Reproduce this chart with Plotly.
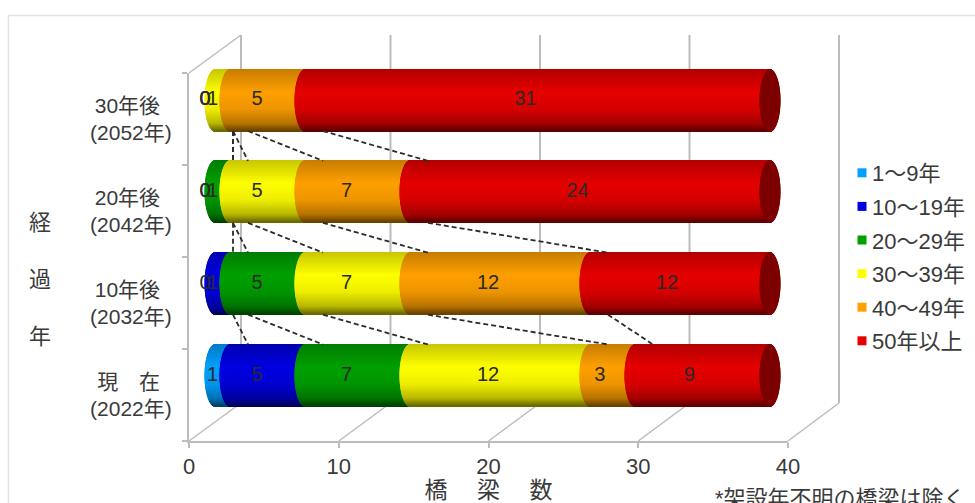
import numpy as np
import plotly.graph_objects as go

W, H = 975, 503
FONT = "Liberation Sans, Noto Sans CJK JP, sans-serif"
TXT = "#3a3a3a"
GRID = "#bcbcbc"

# ---- data ----
tick_labels = ["現　在\u00a0\u00a0<br>(2022年)", "10年後\u00a0\u00a0<br>(2032年)",
               "20年後\u00a0\u00a0<br>(2042年)", "30年後\u00a0\u00a0<br>(2052年)"]
series_names = ["1〜9年", "10〜19年", "20〜29年", "30〜39年", "40〜49年", "50年以上"]
s_1_9 = [1, 0, 0, 0]
s_10_19 = [5, 1, 0, 0]
s_20_29 = [7, 5, 1, 0]
s_30_39 = [12, 7, 5, 1]
s_40_49 = [3, 12, 7, 5]
s_50 = [9, 12, 24, 31]
series_values = [s_1_9, s_10_19, s_20_29, s_30_39, s_40_49, s_50]
series_colors = [(0, 160, 255), (0, 0, 225), (0, 160, 0), (255, 255, 0), (255, 160, 0), (230, 0, 0)]
x_ticks = [0, 10, 20, 30, 40]

# ---- geometry of the pseudo-3D box, in pixels ----
FX0, FX1, FY0, FY1 = 189, 788, 441, 73      # front plane
BX0, BX1, BY0, BY1 = 241, 839, 403, 35      # back plane
BAR_X0, BAR_SCALE = 215, 15.0               # where value 0 sits for the cylinders
LABEL_X0, LABEL_SCALE, LINK_X0 = 205, 14.9, 233
ROW0_Y, ROW_STEP = 375.5, 91.83
R_PX, CAP_A = 31.0, 10.5
N = 62


def px(x):
    return x / W


def py(y):
    return 1 - y / H


def shade(rgb, t):
    f = np.interp(t, [-1, -0.25, 0.3, 0.75, 1], [0.78, 1.0, 0.93, 0.72, 0.4])
    return "rgb(%d,%d,%d)" % tuple(int(c * f) for c in rgb)


ts = (np.arange(N) + 0.5) / N * 2 - 1
thick = 2 * R_PX / N / ROW_STEP
r_units = R_PX / ROW_STEP
a_units = CAP_A / BAR_SCALE
cum = np.cumsum(np.array(series_values, dtype=float), axis=0)

fig = go.Figure()

# dashed links between rows
for i in range(len(series_names) - 1):
    for r in range(3):
        fig.add_trace(go.Scatter(
            x=[cum[i][r + 1], cum[i][r]], y=[r + 1 - r_units, r + r_units],
            xaxis="x4", yaxis="y", mode="lines", showlegend=False, hoverinfo="skip",
            line=dict(color="#2b2b2b", width=1.8, dash="5px,3px")))

# cylinders drawn as thin horizontal bars
for i, name in enumerate(series_names):
    ys, bases, lens, cols = [], [], [], []
    for r in range(4):
        v = series_values[i][r]
        if v == 0:
            continue
        start = cum[i][r] - v
        for t in ts:
            bulge = a_units * np.sqrt(1 - t * t)
            ys.append(r - t * r_units)
            bases.append(start - bulge)
            lens.append(v + bulge)
            cols.append(shade(series_colors[i], t))
    fig.add_trace(go.Bar(
        y=ys, x=lens, base=bases, width=thick * 1.05, orientation="h", name=name,
        marker=dict(color=cols, line=dict(width=0)), showlegend=False, hoverinfo="skip"))

# dark end caps
ys, bases, lens = [], [], []
for r in range(4):
    for t in ts:
        bulge = a_units * np.sqrt(1 - t * t)
        ys.append(r - t * r_units)
        bases.append(cum[-1][r] - bulge)
        lens.append(2 * bulge)
fig.add_trace(go.Bar(
    y=ys, x=lens, base=bases, width=thick * 1.05, orientation="h",
    marker=dict(color="#7c0000", line=dict(width=0)), showlegend=False, hoverinfo="skip"))

# value labels
for i in range(len(series_names)):
    fig.add_trace(go.Scatter(
        x=[cum[i][r] - series_values[i][r] / 2 for r in range(4)], y=list(range(4)),
        text=[str(v) for v in series_values[i]], xaxis="x3", yaxis="y", mode="text",
        textposition="middle center", textfont=dict(family=FONT, size=20, color="#2a2a2a"),
        showlegend=False, hoverinfo="skip"))

# legend swatches + front axes
for i, name in enumerate(series_names):
    fig.add_trace(go.Scatter(
        x=[None], y=[None], xaxis="x2", yaxis="y2", mode="markers", name=name,
        legendgroup=name, marker=dict(symbol="square", size=9, color="rgb(%d,%d,%d)" % series_colors[i])))

# box lines
shapes = [dict(type="rect", xref="paper", yref="paper", x0=px(8.5), x1=px(990), y0=py(15.5), y1=py(520),
               line=dict(color="#e4e4e4", width=1.5), layer="below")]


def seg(x0, y0, x1, y1, w=1.5):
    shapes.append(dict(type="line", xref="paper", yref="paper", x0=px(x0), y0=py(y0), x1=px(x1), y1=py(y1),
                       line=dict(color=GRID, width=w), layer="below"))


seg(FX0, FY1, BX0, BY1)
for v in x_ticks:
    fx = FX0 + (FX1 - FX0) * v / 40
    bx = BX0 + (BX1 - BX0) * v / 40
    seg(fx, FY0, bx, BY0)
    seg(bx, BY0, bx, BY1, 2)

fig.update_layout(
    width=W, height=H, autosize=False, margin=dict(l=0, r=0, t=0, b=0, autoexpand=False),
    paper_bgcolor="white", plot_bgcolor="rgba(0,0,0,0)", barmode="overlay", shapes=shapes,
    font=dict(family=FONT, color=TXT),
    xaxis=dict(domain=[0, 1], range=[-BAR_X0 / BAR_SCALE, (W - BAR_X0) / BAR_SCALE], visible=False, fixedrange=True),
    xaxis3=dict(overlaying="x", anchor="y", range=[-LABEL_X0 / LABEL_SCALE, (W - LABEL_X0) / LABEL_SCALE],
                visible=False, fixedrange=True),
    xaxis4=dict(overlaying="x", anchor="y", range=[-LINK_X0 / BAR_SCALE, (W - LINK_X0) / BAR_SCALE],
                visible=False, fixedrange=True),
    yaxis=dict(domain=[0, 1], range=[(ROW0_Y - H) / ROW_STEP, ROW0_Y / ROW_STEP], visible=False, fixedrange=True),
    xaxis2=dict(domain=[px(FX0), px(FX1)], range=[0, 40], anchor="y2", tickvals=x_ticks,
                showgrid=False, zeroline=False, showline=True, linecolor=GRID, linewidth=2,
                ticks="outside", ticklen=5, tickcolor=GRID, tickwidth=1.5,
                tickfont=dict(size=22, color=TXT),
                title=dict(text="橋\u3000\u00a0梁\u3000\u00a0数", font=dict(size=23, color=TXT), standoff=0),
                fixedrange=True),
    yaxis2=dict(domain=[py(FY0), py(FY1)], range=[-0.5, 3.5], anchor="x2", tickvals=[0, 1, 2, 3],
                ticktext=tick_labels, showgrid=False, zeroline=False, showline=True, linecolor=GRID, linewidth=2,
                ticks="", tickfont=dict(size=21, color=TXT), ticklabelstandoff=11, fixedrange=True,
                minor=dict(tickmode="array", tickvals=[-0.5, 0.5, 1.5, 2.5, 3.5], ticks="outside",
                           ticklen=5, tickcolor=GRID, tickwidth=1.5, showgrid=False)),
    legend=dict(x=px(832), xanchor="left", y=py(152), yanchor="top", font=dict(size=22, color=TXT),
                bgcolor="rgba(0,0,0,0)", tracegroupgap=2),
    annotations=[
        dict(text="経<br><br>過<br><br>年", xref="paper", yref="paper", x=px(40), y=py(279), showarrow=False,
             xanchor="center", yanchor="middle", font=dict(size=22, color=TXT)),
        dict(text="*架設年不明の橋梁は除く", xref="paper", yref="paper", x=px(713), y=py(498), showarrow=False,
             xanchor="left", yanchor="middle", font=dict(size=22, color=TXT)),
    ],
)

# page margin off; legend swatches sit right next to their text, as in the reference
fig.write_html("out.html", config=dict(displayModeBar=False),
               post_script="document.body.style.margin='0';document.body.style.overflow='hidden';"
                           "document.querySelectorAll('.legendpoints').forEach(function(g){"
                           "g.setAttribute('transform','translate(10,0)');});")
